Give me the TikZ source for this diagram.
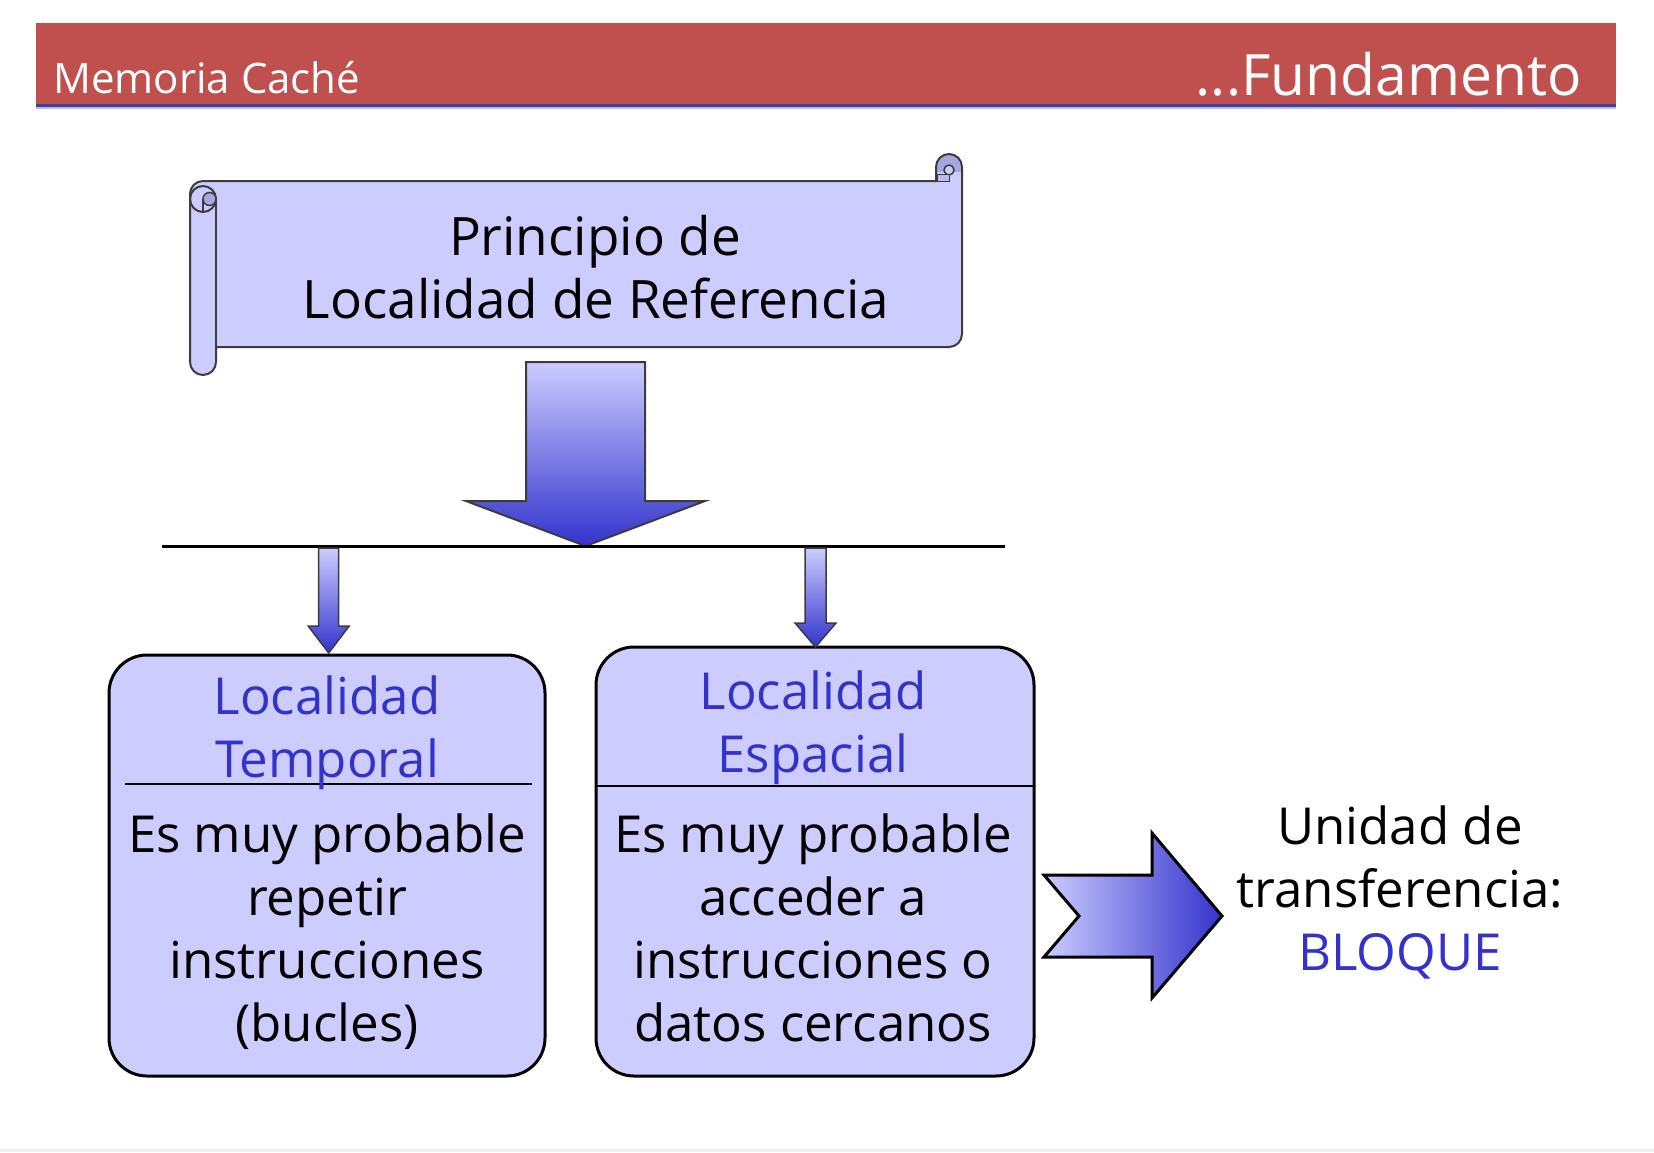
\documentclass[tikz,border=0pt]{standalone}
\usepackage{fontspec}
\setmainfont{Open Sans}
\usetikzlibrary{calc}
\definecolor{hdr}{HTML}{C0504D}
\definecolor{lav}{HTML}{CCCCFF}
\definecolor{blu}{HTML}{3333CC}
\definecolor{curlc}{HTML}{A6A6E0}
\definecolor{edgec}{HTML}{3C3C3C}
\definecolor{hline}{HTML}{40409A}
\definecolor{hline2}{HTML}{B8B8EE}
\begin{document}
\begin{tikzpicture}[x=1pt,y=-1pt,
  txt/.style={inner sep=0pt, anchor=base, font=\fontsize{51}{63}\selectfont},
  stxt/.style={inner sep=0pt, anchor=base, font=\fontsize{53}{63}\selectfont},
  ttl/.style={txt, text=blu},
  bx/.style={draw=black, line width=3pt, fill=lav, rounded corners=38pt, inner sep=0pt},
  bigarrow/.style={draw=edgec, line width=2pt, top color=lav, bottom color=blu},
  smallarrow/.style={draw=edgec, line width=1.5pt, top color=lav, bottom color=blu},
  sidearrow/.style={draw=black, line width=3pt, left color=lav, right color=blu},
  scrolledge/.style={draw=edgec, line width=2pt}]
\useasboundingbox (0,0) rectangle (1654,1152);
\fill[white] (0,0) rectangle (1654,1152);
\fill[black!6] (0,1149) rectangle (1654,1152);
% header
\fill[hdr] (36,23) rectangle (1616,104);
\fill[hline] (36,104) rectangle (1616,106.5);
\fill[hline2] (36,106.5) rectangle (1616,108.5);
\node[inner sep=0pt, anchor=base west, text=white, font=\fontsize{42}{50}\selectfont] (hl) at (53,93) {Memoria Caché};
\node[inner sep=0pt, anchor=base east, text=white, font=\fontsize{57}{60}\selectfont] (hr) at (1582,95) {...Fundamento};
% scroll
\fill[lav] (190,194) -- (190,362) arc[start angle=180,end angle=0,radius=13] -- (216,347) -- (949,347) arc[start angle=90,end angle=0,radius=13] -- (962,167) arc[start angle=0,end angle=-180,radius=13] -- (936,181) -- (203,181) arc[start angle=-90,end angle=-180,radius=13] -- cycle;
% right curl
\fill[curlc] (936,167) arc[start angle=180,end angle=360,radius=13] -- (962,172) -- (936,172) -- cycle;
\filldraw[fill=lav, draw=edgec, line width=1.5pt] (949,170) circle (5);
\filldraw[fill=curlc!50!lav, draw=edgec, line width=1pt] (937,174) rectangle (949,181);
% left curl
\draw[scrolledge, fill=lav] (203,199) circle (13);
\filldraw[fill=curlc, draw=edgec, line width=1.5pt] (209.5,199) circle (6.5);
\draw[scrolledge] (203,199) -- (203,212);
\draw[scrolledge] (216,199) -- (216,347);
\draw[scrolledge] (190,194) -- (190,362) arc[start angle=180,end angle=0,radius=13] -- (216,347) -- (949,347) arc[start angle=90,end angle=0,radius=13] -- (962,167) arc[start angle=0,end angle=-180,radius=13] -- (936,181) -- (203,181) arc[start angle=-90,end angle=-180,radius=13] -- cycle;
\node[stxt] (p1) at (595,255) {Principio de};
\node[stxt] (p2) at (596,318.6) {Localidad de Referencia};
% big arrow
\coordinate (bigtip) at (585.5,546);
\path[bigarrow] (526,362) -- (645,362) -- (645,501) -- (705,501) -- (bigtip) -- (466,501) -- (526,501) -- cycle;
% bar
\coordinate (barL) at (162,546);
\coordinate (barR) at (1005,546);
\draw[line width=3pt] (barL) -- (barR);
% boxes
\node[bx, minimum width=436pt, minimum height=421pt] (boxL) at (327,865.5) {};
\node[bx, minimum width=438pt, minimum height=429pt] (boxR) at (815,861.5) {};
\draw[line width=1.5pt] (124.5,784) -- (531.5,784);
\draw[line width=1.5pt] (597,786) -- (1033,786);
% small arrows
\coordinate (aL) at (328.7,548);
\coordinate (aR) at (815.5,548);
\path[smallarrow] ($(aL)+(-10,0)$) -- ($(aL)+(10,0)$) -- ($(aL)+(10,78)$) -- ($(aL)+(20.5,78)$) -- ($(aL)+(0,105)$) -- ($(aL)+(-20.5,78)$) -- ($(aL)+(-10,78)$) -- cycle;
\path[smallarrow] ($(aR)+(-10.5,0)$) -- ($(aR)+(10.5,0)$) -- ($(aR)+(10.5,75)$) -- ($(aR)+(20.5,75)$) -- ($(aR)+(0,99)$) -- ($(aR)+(-20.5,75)$) -- ($(aR)+(-10.5,75)$) -- cycle;
% box texts
\node[ttl] (l1) at (327,714) {Localidad};
\node[ttl] (l2) at (327,777) {Temporal};
\node[txt] (l3) at (327,852) {Es muy probable};
\node[txt] (l4) at (327,915) {repetir};
\node[txt] (l5) at (327,978) {instrucciones};
\node[txt] (l6) at (327,1041) {(bucles)};
\node[ttl] (r1) at (813,709) {Localidad};
\node[ttl] (r2) at (813,772) {Espacial};
\node[txt] (r3) at (813,852) {Es muy probable};
\node[txt] (r4) at (813,915) {acceder a};
\node[txt] (r5) at (813,978) {instrucciones o};
\node[txt] (r6) at (813,1041) {datos cercanos};
% side arrow
\path[sidearrow] (1044,875) -- (1152,875) -- (1152,833) -- (1222,916) -- (1152,998) -- (1152,957) -- (1044,957) -- (1079,916) -- cycle;
\node[txt] (u1) at (1400,844) {Unidad de};
\node[txt] (u2) at (1400,907) {transferencia:};
\node[ttl] (u3) at (1400,970) {BLOQUE};
\end{tikzpicture}
\end{document}
